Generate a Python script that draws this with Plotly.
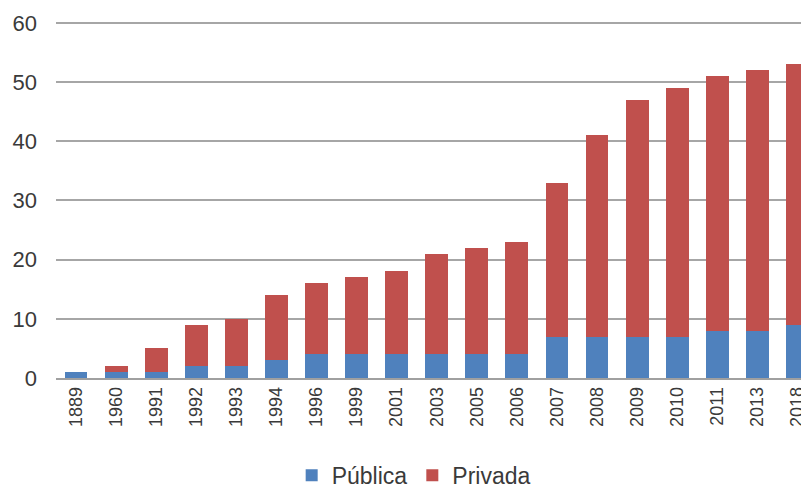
import plotly.graph_objects as go

years = ["1889", "1960", "1991", "1992", "1993", "1994", "1996", "1999", "2001",
         "2003", "2005", "2006", "2007", "2008", "2009", "2010", "2011", "2013", "2018"]
publica = [1, 1, 1, 2, 2, 3, 4, 4, 4, 4, 4, 4, 7, 7, 7, 7, 8, 8, 9]
privada = [0, 1, 4, 7, 8, 11, 12, 13, 14, 17, 18, 19, 26, 34, 40, 42, 43, 44, 44]

font_family = "Liberation Sans, Arial, sans-serif"
text_color = "#3a3a3a"

fig = go.Figure()
fig.add_trace(go.Bar(x=years, y=publica, name="Pública", marker_color="#4F81BD",
                     marker_line_width=0, width=0.57))
fig.add_trace(go.Bar(x=years, y=privada, name="Privada", marker_color="#C0504D",
                     marker_line_width=0, width=0.57))

# page body has an 8px default margin: figure occupies 801x482 starting at (8, 8)
fig.update_layout(
    barmode="stack",
    width=801, height=482,
    margin=dict(l=48, r=0, t=12, b=112, autoexpand=False),
    paper_bgcolor="white", plot_bgcolor="white",
    font=dict(family=font_family, color=text_color),
    legend=dict(orientation="h", x=0.475, xanchor="center", y=-0.272, yanchor="middle",
                font=dict(size=23, color=text_color), traceorder="normal",
                itemsizing="constant"),
    xaxis=dict(type="category", range=[-0.5, 18.29], tickangle=-90, automargin=False,
               tickfont=dict(size=18, color=text_color), showgrid=False,
               showline=True, linecolor="#a0a0a0", linewidth=1.5, ticks=""),
    yaxis=dict(range=[0, 60.5], tickvals=[0, 10, 20, 30, 40, 50, 60], automargin=False,
               tickfont=dict(size=22, color=text_color), showgrid=True,
               gridcolor="#a6a6a6", gridwidth=1.5, zeroline=False,
               ticks="", ticklabelstandoff=18, showline=False),
)

fig.write_html("out.html")
